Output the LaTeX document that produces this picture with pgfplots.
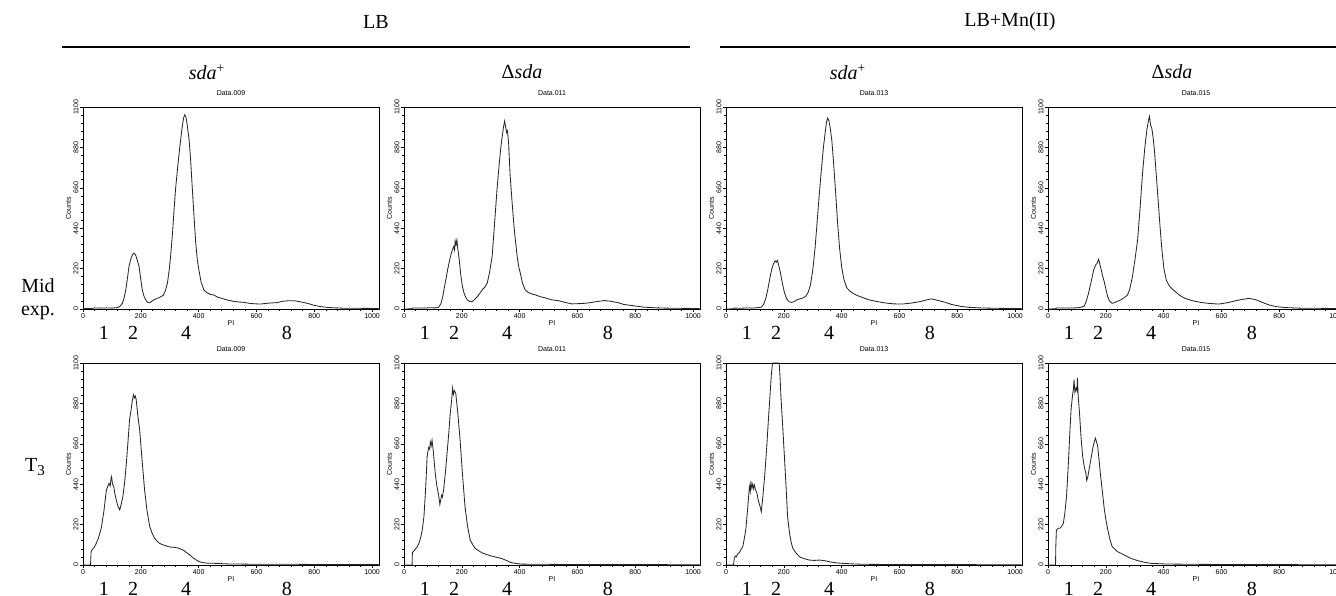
\documentclass[border=0pt]{standalone}
\usepackage{fontspec}
\setmainfont{Liberation Serif}
\newfontfamily\tickfont{Liberation Sans}
\usepackage{pgfplots}
\pgfplotsset{compat=1.18}

% 1 px of the reference = 0.6pt
\tikzset{
  big/.style={font=\fontsize{12}{14}\selectfont},
  ploidy/.style={big, yshift=-14.4pt},
}
\newcommand\tinyfont{\tickfont\fontsize{4.2}{4.6}\selectfont}
\newcommand\ploidylabels{%
  \node[ploidy] at (axis cs:72,0) {1};
  \node[ploidy] at (axis cs:173,0) {2};
  \node[ploidy] at (axis cs:357,0) {4};
  \node[ploidy] at (axis cs:705,0) {8};}

\pgfplotsset{
  flow/.style={
    scale only axis, width=177.6pt, height=121.2pt, anchor=south west,
    xmin=0, xmax=1024, ymin=0, ymax=1100,
    xtick={0,200,...,1000}, ytick={0,220,...,1100},
    minor x tick num=4, minor y tick num=4,
    tick align=outside, tick pos=left,
    major tick length=1.8pt, minor tick length=1pt,
    axis line style={line width=0.5pt},
    every tick/.style={black, line width=0.35pt},
    /pgf/number format/assume math mode=true,
    /pgf/number format/1000 sep={},
    ticklabel style={font=\tinyfont, inner sep=0.7pt},
    yticklabel style={rotate=90, anchor=south},
    xlabel={PI}, ylabel={Counts},
    label style={font=\tinyfont, inner sep=0.6pt},
    title style={font=\tinyfont, inner sep=0.8pt},
    clip=false,
  },
  hist/.style={black!85, line width=0.5pt, mark=none},
}

\begin{document}
\begin{tikzpicture}
\useasboundingbox (0,0) rectangle (801.6pt,-357pt);

% ---- headers and row labels
\begin{scope}[x=0.6pt,y=-0.6pt]
  \node[big] at (376,22) {LB};
  \node[big] at (1010,22) {LB+Mn(II)};
  \draw[line width=1.4pt] (62,47) -- (690,47);
  \draw[line width=1.4pt] (720,47) -- (1340,47);
  \node[big] at (207,72) {\textit{sda}\textsuperscript{+}};
  \node[big] at (522,72) {Δ\textit{sda}};
  \node[big] at (848,72) {\textit{sda}\textsuperscript{+}};
  \node[big] at (1172,72) {Δ\textit{sda}};
  \node[big, align=center] at (38,299) {Mid\\exp.};
  \node[big] at (35,467) {T\raisebox{-0.4ex}{\fontsize{9}{9}\selectfont 3}};
\end{scope}

% ---- row 1: mid exponential
\begin{axis}[flow, at={(83*0.6pt,-309*0.6pt)}, title={Data.009}]
\addplot[hist] coordinates {(0,0) (5,2) (30,3) (40,6) (60,5) (80,6) (100,5) (120,8) (128,15) (136,31) (142,60) (148,104) (154,170) (159,231) (165,270) (171,295) (176,305) (179,300) (183,290) (188,265) (194,231) (200,160) (205,104) (211,70) (217,49) (224,36) (232,34) (240,45) (248,52) (256,58) (264,62) (270,68) (278,75) (285,100) (292,140) (298,210) (303,285) (310,420) (315,540) (320,650) (328,780) (334,870) (338,922) (343,990) (348,1040) (352,1058) (356,1045) (360,1010) (364,960) (367,922) (372,820) (378,660) (384,504) (390,360) (396,260) (401,213) (408,150) (418,104) (428,90) (440,80) (453,76) (465,65) (480,58) (499,49) (520,42) (540,38) (557,36) (580,30) (600,28) (614,27) (630,30) (650,33) (672,35) (690,42) (710,45) (730,45) (750,40) (776,31) (800,20) (822,13) (850,8) (880,6) (902,4) (950,4) (1000,3) (1023,2)};
\ploidylabels
\end{axis}

\begin{axis}[flow, at={(404*0.6pt,-309*0.6pt)}, title={Data.011}]
\addplot[hist] coordinates {(0,0) (25,1) (30,5) (50,6) (70,5) (90,7) (110,6) (120,10) (128,30) (134,68) (140,120) (146,170) (151,215) (157,260) (163,300) (168,325) (172,340) (175,320) (177,371) (180,350) (183,376) (186,330) (191,270) (196,190) (202,123) (208,85) (214,62) (219,50) (226,42) (234,39) (242,48) (248,58) (254,68) (262,85) (271,105) (280,120) (288,141) (296,200) (305,288) (313,460) (322,656) (330,800) (335,880) (339,931) (344,990) (348,1023) (352,990) (355,960) (358,970) (362,900) (367,731) (374,580) (380,460) (385,380) (392,280) (397,230) (402,197) (410,140) (419,105) (430,90) (442,82) (454,77) (470,68) (490,60) (511,50) (535,45) (557,36) (579,28) (600,29) (625,31) (650,36) (672,42) (694,46) (716,42) (739,35) (760,25) (797,17) (830,10) (866,7) (900,5) (945,4) (1000,3) (1023,2)};
\ploidylabels
\end{axis}

\begin{axis}[flow, at={(726*0.6pt,-309*0.6pt)}, title={Data.013}]
\addplot[hist] coordinates {(0,0) (25,1) (30,5) (50,4) (70,6) (90,5) (110,7) (122,10) (130,25) (138,60) (145,110) (152,170) (158,215) (164,245) (170,262) (174,255) (178,265) (182,240) (188,200) (195,140) (202,90) (210,55) (218,40) (226,36) (235,40) (245,50) (255,55) (265,60) (275,68) (284,90) (292,130) (300,210) (308,330) (315,470) (322,610) (330,760) (337,880) (343,960) (348,1020) (352,1040) (356,1025) (360,990) (366,920) (372,800) (379,640) (386,470) (393,330) (400,230) (408,160) (418,115) (430,95) (445,80) (460,70) (480,58) (500,48) (525,40) (550,33) (580,28) (610,27) (640,32) (670,40) (695,50) (710,55) (730,48) (755,38) (780,25) (810,15) (840,9) (880,6) (930,4) (980,3) (1023,2)};
\ploidylabels
\end{axis}

\begin{axis}[flow, at={(1048*0.6pt,-309*0.6pt)}, title={Data.015}]
\addplot[hist] coordinates {(0,0) (25,1) (30,5) (50,6) (70,5) (90,6) (110,8) (125,15) (133,45) (140,85) (148,140) (158,213) (165,240) (170,250) (175,271) (179,245) (184,215) (188,185) (193,158) (200,110) (206,70) (211,49) (216,38) (222,31) (230,35) (240,42) (251,49) (262,60) (275,76) (283,110) (292,176) (300,260) (310,376) (318,540) (327,740) (335,880) (342,976) (348,1030) (351,1049) (355,1000) (359,985) (363,940) (368,867) (374,740) (380,613) (387,460) (394,322) (401,220) (409,158) (418,130) (427,113) (440,95) (455,75) (474,58) (500,45) (532,35) (560,30) (591,27) (620,34) (649,45) (670,52) (696,58) (720,50) (743,35) (765,22) (789,13) (820,8) (850,6) (883,4) (930,4) (980,3) (1023,2)};
\ploidylabels
\end{axis}

% ---- row 2: T3
\begin{axis}[flow, at={(83*0.6pt,-565*0.6pt)}, title={Data.009}]
\addplot[hist] coordinates {(0,0) (26,0) (28,70) (31,82) (38,95) (46,118) (54,150) (63,200) (72,290) (81,409) (86,430) (90,445) (94,430) (98,482) (100,470) (102,440) (106,430) (110,390) (115,355) (121,320) (127,300) (132,330) (138,373) (144,450) (150,555) (156,680) (161,791) (166,840) (170,890) (175,927) (178,910) (181,920) (184,900) (190,810) (196,736) (204,580) (213,409) (222,290) (231,209) (240,170) (248,145) (256,130) (265,118) (276,110) (288,104) (300,98) (317,96) (330,92) (346,82) (358,68) (369,55) (380,40) (392,27) (403,18) (415,13) (430,10) (461,9) (500,6) (553,5) (600,4) (660,4) (726,4) (800,3) (880,3) (957,2) (1023,2)};
\ploidylabels
\end{axis}

\begin{axis}[flow, at={(404*0.6pt,-565*0.6pt)}, title={Data.011}]
\addplot[hist] coordinates {(0,0) (28,0) (29,67) (35,78) (40,88) (46,100) (52,120) (57,145) (63,190) (69,264) (75,420) (80,591) (85,640) (89,630) (91,670) (94,650) (97,680) (100,640) (103,591) (108,500) (114,427) (120,380) (124,330) (126,345) (130,380) (133,370) (137,409) (143,500) (149,609) (155,720) (160,827) (165,900) (168,964) (171,930) (174,950) (179,936) (186,830) (194,682) (202,500) (211,318) (220,210) (229,136) (238,110) (246,91) (258,78) (269,67) (286,57) (303,49) (320,42) (337,36) (354,25) (371,13) (390,8) (406,5) (450,4) (486,4) (550,3) (620,3) (714,2) (800,2) (900,2) (1023,1)};
\ploidylabels
\end{axis}

\begin{axis}[flow, at={(726*0.6pt,-565*0.6pt)}, title={Data.013}]
\addplot[hist] coordinates {(0,0) (26,0) (28,30) (32,49) (36,45) (40,60) (46,67) (52,85) (58,100) (64,150) (69,200) (75,310) (81,427) (84,400) (86,455) (89,420) (92,440) (95,415) (98,436) (102,410) (107,391) (112,350) (118,318) (122,290) (127,364) (134,490) (141,645) (147,800) (152,918) (157,1040) (161,1100) (170,1100) (184,1100) (187,1020) (190,918) (196,760) (202,591) (208,420) (213,264) (220,170) (226,120) (231,91) (240,70) (254,45) (270,35) (288,27) (305,25) (323,27) (340,24) (357,18) (380,12) (403,9) (440,6) (473,4) (550,3) (646,2) (750,2) (850,2) (1023,1)};
\ploidylabels
\end{axis}

\begin{axis}[flow, at={(1048*0.6pt,-565*0.6pt)}, title={Data.015}]
\addplot[hist] coordinates {(0,0) (26,0) (27,100) (29,191) (35,200) (41,200) (47,210) (53,227) (58,280) (64,373) (70,540) (76,736) (80,850) (85,927) (88,960) (90,1009) (93,940) (97,964) (100,950) (102,1018) (104,930) (109,827) (114,700) (120,591) (126,530) (131,500) (134,460) (138,482) (142,520) (146,555) (151,600) (156,645) (160,670) (164,691) (168,670) (172,645) (176,580) (181,500) (188,400) (195,300) (201,240) (207,191) (214,140) (222,100) (230,88) (240,73) (257,60) (275,45) (292,33) (310,24) (333,15) (357,9) (400,6) (439,5) (500,4) (580,3) (649,2) (750,2) (850,2) (1023,1)};
\ploidylabels
\end{axis}
\end{tikzpicture}
\end{document}
